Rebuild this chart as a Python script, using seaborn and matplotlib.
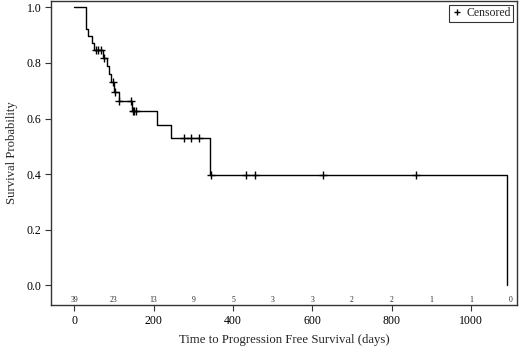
import matplotlib
matplotlib.use("Agg")
import matplotlib.pyplot as plt
import seaborn as sns
import pandas as pd
from matplotlib.lines import Line2D

# Kaplan-Meier step curve (time in days, survival after the step)
step_times = [0, 29.5, 34.5, 44.6, 50.4, 71.6, 81.6, 87.5, 91.7, 100.5, 112, 145.5,
              207.6, 243, 342, 1090, 1090]
step_surv = [1.0, 0.923, 0.897, 0.872, 0.846, 0.818, 0.789, 0.760, 0.730, 0.697, 0.663,
             0.627, 0.577, 0.529, 0.397, 0.397, 0.0]

# Censored observations
censor_times = [54.7, 60.5, 66.5, 75.6, 97, 101.5, 113.5, 143, 147.5, 151, 155.5,
                277, 294, 315, 345, 432, 455, 626, 861]
censor_surv = [0.846, 0.846, 0.846, 0.818, 0.730, 0.697, 0.663, 0.663, 0.627, 0.627, 0.627,
               0.529, 0.529, 0.529, 0.397, 0.397, 0.397, 0.397, 0.397]

# Number at risk
risk_times = [0, 100, 200, 300, 400, 500, 600, 700, 800, 900, 1000, 1100]
risk_counts = [39, 23, 13, 9, 5, 3, 3, 2, 2, 1, 1, 0]

x_ticks = [0, 200, 400, 600, 800, 1000]
y_ticks = [0.0, 0.2, 0.4, 0.6, 0.8, 1.0]

sns.set_style("ticks")
plt.rcParams['font.family'] = ['Liberation Serif', 'DejaVu Serif']

fig = plt.figure(figsize=(5.2, 3.52), dpi=100)
ax = fig.add_axes([51/520, 1 - 305/352, (517 - 51)/520, (305 - 1)/352])

curve = pd.DataFrame({"t": step_times, "s": step_surv})
sns.lineplot(data=curve, x="t", y="s", ax=ax, estimator=None, sort=False,
             drawstyle="steps-post", color="black", linewidth=1.0)

cens = pd.DataFrame({"t": censor_times, "s": censor_surv})
sns.scatterplot(data=cens, x="t", y="s", ax=ax, marker="+", color="black",
                s=34, linewidth=1.0, zorder=3)

for t, n in zip(risk_times, risk_counts):
    ax.text(t, -0.053, str(n), ha="center", va="center", fontsize=5.5)

ax.set_xlim(-58.7, 1116)
ax.set_ylim(-0.071, 1.023)
ax.set_xticks(x_ticks)
ax.set_yticks(y_ticks)
ax.set_yticklabels([f"{v:.1f}" for v in y_ticks])
ax.tick_params(direction="out", length=4, width=0.8, labelsize=8.5, colors="#333333",
               labelcolor="black", pad=3)
ax.set_xlabel("Time to Progression Free Survival (days)", fontsize=9.2, labelpad=5)
ax.set_ylabel("Survival Probability", fontsize=9.2, labelpad=6)
for sp in ax.spines.values():
    sp.set_color("#333333")
    sp.set_linewidth(1.0)

handle = Line2D([], [], marker="+", linestyle="none", color="black", markersize=5)
leg = ax.legend([handle], ["Censored"], loc="upper right", fontsize=8.5,
                frameon=True, fancybox=False, handlelength=0.8, handletextpad=0.4,
                borderpad=0.25, borderaxespad=0.3)
leg.get_frame().set_edgecolor("black")
leg.get_frame().set_linewidth(0.8)

fig.savefig("out.png", dpi=100)
